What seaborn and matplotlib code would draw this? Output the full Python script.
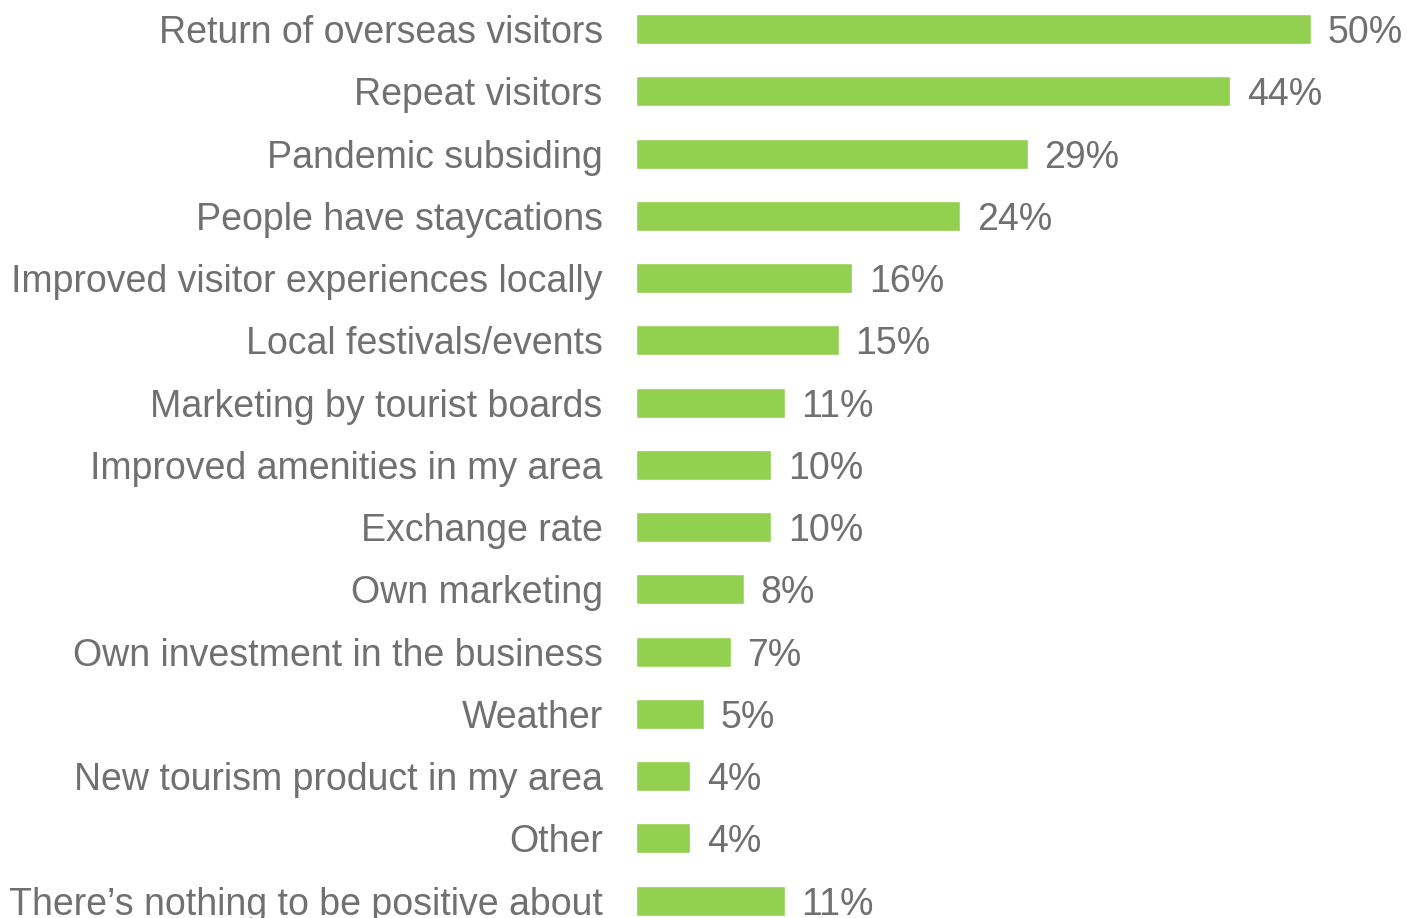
import matplotlib
matplotlib.use("Agg")
import matplotlib.pyplot as plt
import seaborn as sns
import pandas as pd

# Reasons for positivity about the coming season (% of respondents)
categories = [
    "Return of overseas visitors",
    "Repeat visitors",
    "Pandemic subsiding",
    "People have staycations",
    "Improved visitor experiences locally",
    "Local festivals/events",
    "Marketing by tourist boards",
    "Improved amenities in my area",
    "Exchange rate",
    "Own marketing",
    "Own investment in the business",
    "Weather",
    "New tourism product in my area",
    "Other",
    "There\u2019s nothing to be positive about",
]
values = [50, 44, 29, 24, 16, 15, 11, 10, 10, 8, 7, 5, 4, 4, 11]

BAR_COLOR = "#92D050"
TEXT_COLOR = "#707070"
FONT_SIZE = 27

sns.set_theme(style="white")
plt.rcParams["font.family"] = ["Liberation Sans", "DejaVu Sans"]

df = pd.DataFrame({"reason": categories, "pct": values})

fig = plt.figure(figsize=(14.07, 9.18), dpi=100)
ax = fig.add_axes([636 / 1407, 0.0, 771 / 1407, 1.0])

sns.barplot(data=df, x="pct", y="reason", orient="h", color=BAR_COLOR,
            saturation=1, width=0.482, ax=ax)

ax.set_xlim(0, 771 / 13.5)
ax.set_ylim(14.278, -0.469)

for container in ax.containers:
    texts = ax.bar_label(container, labels=[f"{v}%" for v in values], padding=12,
                         fontsize=FONT_SIZE, color=TEXT_COLOR)
    for t in texts:
        t.set_va("center_baseline")

ax.set_xlabel("")
ax.set_ylabel("")
ax.set_xticks([])
ax.tick_params(axis="y", length=0, pad=24, labelsize=FONT_SIZE, labelcolor=TEXT_COLOR)
for spine in ax.spines.values():
    spine.set_visible(False)

fig.savefig("out.png", dpi=100)
